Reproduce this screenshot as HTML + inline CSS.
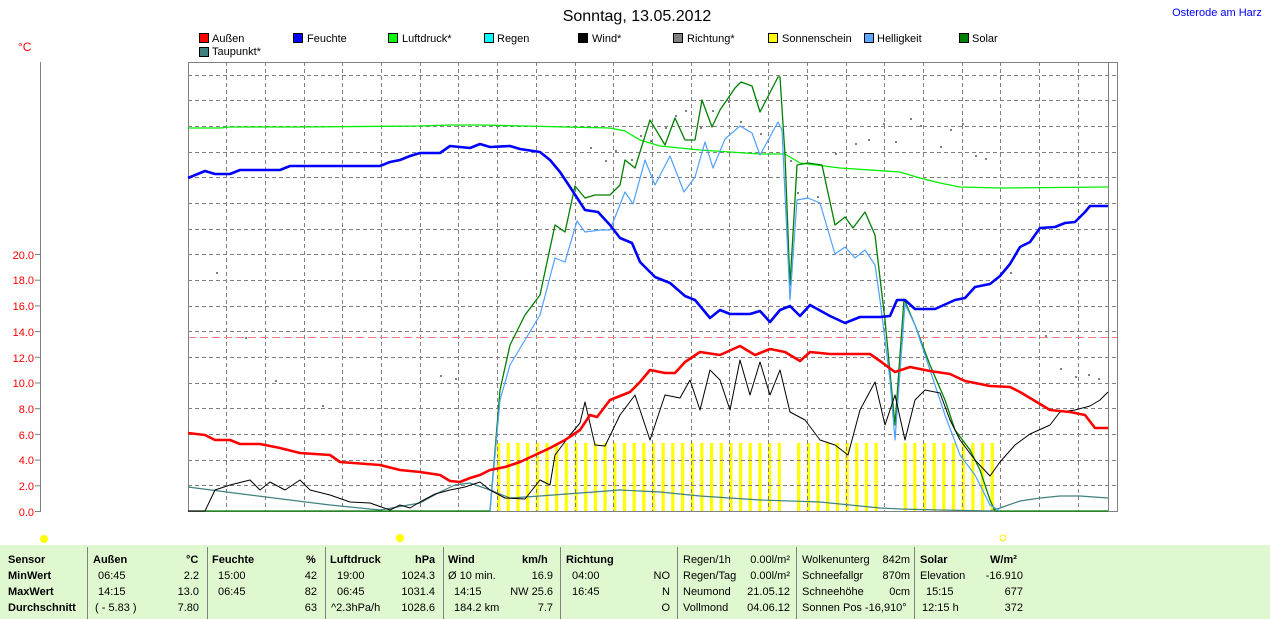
<!DOCTYPE html>
<html><head><meta charset="utf-8"><style>
body{margin:0;width:1270px;height:619px;background:#fff;overflow:hidden;font-family:"Liberation Sans",sans-serif;position:relative}
.t{position:absolute;font-size:11px;color:#000;white-space:nowrap}
.b{font-weight:bold}
.r{text-align:right}
</style></head><body>
<svg width="1270" height="545" style="position:absolute;left:0;top:0" font-family="Liberation Sans, sans-serif">
<defs><pattern id="sun" x="497" y="0" width="9.68" height="600" patternUnits="userSpaceOnUse"><rect x="0" y="0" width="3.2" height="600" fill="#ffff00"/></pattern></defs>
<text x="637" y="21" font-size="16" text-anchor="middle" fill="#000">Sonntag, 13.05.2012</text>
<text x="1217" y="16" font-size="11" text-anchor="middle" fill="#0000ff">Osterode am Harz</text>
<text x="18" y="51" font-size="12" fill="#ff0000">°C</text>
<g font-size="11" fill="#000">
<rect x="199.5" y="33.5" width="9" height="9" fill="#ff0000" stroke="#000"/><text x="212" y="42">Außen</text>
<rect x="293.5" y="33.5" width="9" height="9" fill="#0000ff" stroke="#000"/><text x="307" y="42">Feuchte</text>
<rect x="388.5" y="33.5" width="9" height="9" fill="#00ff00" stroke="#000"/><text x="402" y="42">Luftdruck*</text>
<rect x="484.5" y="33.5" width="9" height="9" fill="#00ffff" stroke="#000"/><text x="497" y="42">Regen</text>
<rect x="578.5" y="33.5" width="9" height="9" fill="#000000" stroke="#000"/><text x="592" y="42">Wind*</text>
<rect x="673.5" y="33.5" width="9" height="9" fill="#808080" stroke="#000"/><text x="687" y="42">Richtung*</text>
<rect x="768.5" y="33.5" width="9" height="9" fill="#ffff00" stroke="#000"/><text x="782" y="42">Sonnenschein</text>
<rect x="864.5" y="33.5" width="9" height="9" fill="#60a8ff" stroke="#000"/><text x="877" y="42">Helligkeit</text>
<rect x="959.5" y="33.5" width="9" height="9" fill="#008000" stroke="#000"/><text x="972" y="42">Solar</text>
<rect x="199.5" y="47.5" width="9" height="9" fill="#408080" stroke="#000"/><text x="212" y="55">Taupunkt*</text>
</g>
<!-- y axis -->
<line x1="40.5" y1="62" x2="40.5" y2="512" stroke="#808080" stroke-width="1"/>
<g stroke="#808080"><line x1="35" y1="511.5" x2="40" y2="511.5"/><line x1="35" y1="485.8" x2="40" y2="485.8"/><line x1="35" y1="460.1" x2="40" y2="460.1"/><line x1="35" y1="434.4" x2="40" y2="434.4"/><line x1="35" y1="408.7" x2="40" y2="408.7"/><line x1="35" y1="383" x2="40" y2="383"/><line x1="35" y1="357.3" x2="40" y2="357.3"/><line x1="35" y1="331.6" x2="40" y2="331.6"/><line x1="35" y1="305.9" x2="40" y2="305.9"/><line x1="35" y1="280.2" x2="40" y2="280.2"/><line x1="35" y1="254.5" x2="40" y2="254.5"/></g>
<g font-size="11" fill="#ff0000" text-anchor="end">
<text x="34" y="516">0.0</text><text x="34" y="490">2.0</text><text x="34" y="464">4.0</text><text x="34" y="439">6.0</text><text x="34" y="413">8.0</text><text x="34" y="387">10.0</text><text x="34" y="362">12.0</text><text x="34" y="336">14.0</text><text x="34" y="310">16.0</text><text x="34" y="284">18.0</text><text x="34" y="259">20.0</text>
</g>
<!-- sunshine -->
<rect x="495" y="443" width="288" height="68" fill="url(#sun)"/>
<rect x="795" y="443" width="86" height="68" fill="url(#sun)"/>
<rect x="902" y="443" width="93" height="68" fill="url(#sun)"/>
<!-- grid -->
<g stroke="#808080" stroke-dasharray="4,3" stroke-width="1">
<path d="M226.5 62V511M265.5 62V511M304.5 62V511M342.5 62V511M381.5 62V511M420.5 62V511M458.5 62V511M497.5 62V511M536.5 62V511M575.5 62V511M613.5 62V511M652.5 62V511M691.5 62V511M729.5 62V511M768.5 62V511M807.5 62V511M846.5 62V511M884.5 62V511M923.5 62V511M962.5 62V511M1000.5 62V511M1039.5 62V511M1078.5 62V511"/>
<path d="M188 485.5H1117M188 460.5H1117M188 434.5H1117M188 408.5H1117M188 383.5H1117M188 357.5H1117M188 331.5H1117M188 306.5H1117M188 280.5H1117M188 254.5H1117M188 229.5H1117M188 203.5H1117M188 177.5H1117M188 152.5H1117M188 126.5H1117M188 100.5H1117M188 75.5H1117"/>
</g>
<line x1="188" y1="337.5" x2="1117" y2="337.5" stroke="#f08080" stroke-dasharray="8,4"/>
<rect x="188.5" y="62.5" width="929" height="449" fill="none" stroke="#808080"/>
<line x1="1108.5" y1="62" x2="1108.5" y2="511" stroke="#808080"/>
<!-- dots -->
<g fill="#808080">
<rect x="216" y="272" width="2" height="2"/><rect x="245" y="337" width="2" height="2"/><rect x="275" y="380" width="2" height="2"/><rect x="322" y="405" width="2" height="2"/><rect x="440" y="375" width="2" height="2"/><rect x="455" y="378" width="2" height="2"/><rect x="575" y="196" width="2" height="2"/><rect x="590" y="147" width="2" height="2"/><rect x="605" y="160" width="2" height="2"/><rect x="615" y="150" width="2" height="2"/><rect x="631" y="159" width="2" height="2"/><rect x="640" y="135" width="2" height="2"/><rect x="650" y="140" width="2" height="2"/><rect x="665" y="127" width="2" height="2"/><rect x="675" y="115" width="2" height="2"/><rect x="685" y="110" width="2" height="2"/><rect x="700" y="127" width="2" height="2"/><rect x="712" y="110" width="2" height="2"/><rect x="728" y="101" width="2" height="2"/><rect x="740" y="121" width="2" height="2"/><rect x="760" y="133" width="2" height="2"/><rect x="790" y="160" width="2" height="2"/><rect x="797" y="192" width="2" height="2"/><rect x="817" y="196" width="2" height="2"/><rect x="835" y="153" width="2" height="2"/><rect x="855" y="143" width="2" height="2"/><rect x="868" y="139" width="2" height="2"/><rect x="883" y="123" width="2" height="2"/><rect x="895" y="141" width="2" height="2"/><rect x="910" y="118" width="2" height="2"/><rect x="920" y="125" width="2" height="2"/><rect x="940" y="146" width="2" height="2"/><rect x="950" y="129" width="2" height="2"/><rect x="962" y="123" width="2" height="2"/><rect x="975" y="155" width="2" height="2"/><rect x="985" y="158" width="2" height="2"/><rect x="1010" y="272" width="2" height="2"/><rect x="1045" y="335" width="2" height="2"/><rect x="1060" y="368" width="2" height="2"/><rect x="1075" y="376" width="2" height="2"/><rect x="1088" y="374" width="2" height="2"/><rect x="1098" y="378" width="2" height="2"/>
</g>
<g fill="none" stroke-linejoin="round">
<polyline stroke="#408080" stroke-width="1.2" points="188,487 250,495 330,505 380,510 420,503 440,492 455,485 470,483 490,490 510,498 540,496 580,493 620,490 660,492 700,496 760,500 820,502 880,508 900,509 940,510 990,511 1000,508 1020,501 1040,498 1060,496 1080,496 1108,498"/>
<polyline stroke="#00ee00" stroke-width="1.3" points="188,128 220,128 230,127 300,127 420,126 450,125 480,125 610,128 625,131 640,140 660,146 700,150 760,154 785,154 800,163 840,168 900,172 920,178 940,183 960,187 1000,188 1108,187"/>
<polyline stroke="#008000" stroke-width="1.3" points="188,511 490,511 500,390 510,345 525,315 540,295 555,225 565,232 575,186 585,198 595,195 610,195 620,185 625,160 635,168 650,120 665,145 675,118 685,140 695,140 702,100 712,127 720,110 735,88 741,82 752,86 760,112 778,77 780,77 785,155 790,285 797,165 808,163 822,165 835,225 845,217 853,228 865,212 875,235 880,278 885,320 895,425 904,299 915,325 930,365 945,400 955,430 970,450 980,470 990,500 995,511 1108,511"/>
<polyline stroke="#50a0ff" stroke-width="1.2" points="490,511 500,400 510,365 525,340 540,315 555,258 565,262 577,221 585,232 600,230 610,230 625,192 633,204 645,160 655,185 670,156 684,192 695,177 705,142 713,168 725,139 740,126 752,133 760,155 778,122 782,130 790,300 797,200 808,198 820,203 835,254 845,247 855,258 865,250 875,265 880,300 890,380 895,440 905,304 915,325 930,370 945,415 960,455 975,475 990,505 1000,511"/>
<polyline stroke="#000" stroke-width="1" points="188,511 205,511 215,490 230,485 250,480 260,490 270,482 285,490 300,480 310,490 330,495 350,502 370,503 390,510 400,505 410,508 420,502 435,494 450,490 465,487 480,482 490,490 505,498 525,499 540,480 550,485 555,455 570,435 580,423 585,402 595,445 605,446 620,415 635,395 650,440 665,395 680,398 690,380 700,410 710,370 720,380 730,410 740,360 750,395 760,362 770,395 780,370 790,412 805,420 820,440 835,445 848,455 860,410 875,382 885,425 895,395 905,440 915,400 925,390 940,393 950,420 960,440 975,460 990,476 1000,462 1015,445 1030,434 1050,425 1060,412 1075,410 1090,406 1100,400 1108,392"/>
<polyline stroke="#ff0000" stroke-width="2.6" points="188,433 205,435 215,440 230,440 240,444 260,444 280,448 300,453 330,455 340,462 380,465 400,470 420,472 440,475 450,481 460,482 470,478 480,475 490,470 505,467 520,462 535,455 550,448 565,440 580,430 590,415 597,417 610,400 630,392 640,382 650,370 665,373 675,373 685,362 700,352 720,355 740,346 755,355 770,349 785,352 800,361 810,352 830,354 845,354 870,354 880,361 895,372 910,367 930,371 950,374 965,381 990,386 1010,387 1020,392 1030,398 1050,410 1070,412 1085,415 1095,428 1108,428"/>
<polyline stroke="#0000ff" stroke-width="2.6" points="188,178 205,171 215,174 230,174 240,170 280,170 290,166 380,166 390,162 400,160 410,156 420,153 440,153 450,146 470,148 480,144 490,147 510,146 520,149 540,152 550,160 560,172 570,187 585,210 598,212 610,225 620,238 632,243 640,262 655,277 670,283 685,296 695,300 710,318 720,310 730,314 750,314 760,311 770,322 780,310 790,306 800,316 810,305 830,316 845,323 860,317 880,317 890,316 897,300 905,300 915,309 935,309 955,300 965,298 975,287 990,284 1000,276 1010,264 1020,247 1030,242 1040,228 1055,227 1065,223 1075,222 1085,212 1090,206 1108,206"/>
</g>
<!-- sun icons -->
<circle cx="44" cy="539" r="4" fill="#ffff00"/>
<circle cx="400" cy="538" r="4" fill="#ffff00"/>
<circle cx="1003" cy="538" r="3" fill="none" stroke="#ffee00"/>
</svg>
<div style="position:absolute;left:0;top:545px;width:1270px;height:74px;background:#e0f8d0"></div>
<svg width="1270" height="74" style="position:absolute;left:0;top:545px"><g stroke="#808080" stroke-width="1"><line x1="87.5" y1="2" x2="87.5" y2="74"/><line x1="207.5" y1="2" x2="207.5" y2="74"/><line x1="325.5" y1="2" x2="325.5" y2="74"/><line x1="443.5" y1="2" x2="443.5" y2="74"/><line x1="560.5" y1="2" x2="560.5" y2="74"/><line x1="677.5" y1="2" x2="677.5" y2="74"/><line x1="796.5" y1="2" x2="796.5" y2="74"/><line x1="914.5" y1="2" x2="914.5" y2="74"/></g></svg>
<div class="t b" style="left:8px;top:554px">Sensor</div>
<div class="t b" style="left:8px;top:570px">MinWert</div>
<div class="t b" style="left:8px;top:586px">MaxWert</div>
<div class="t b" style="left:8px;top:602px">Durchschnitt</div>
<div class="t b" style="left:93px;top:554px">Außen</div><div class="t b" style="left:186px;top:554px">°C</div>
<div class="t" style="left:98px;top:570px">06:45</div><div class="t r" style="left:150px;width:49px;top:570px">2.2</div>
<div class="t" style="left:98px;top:586px">14:15</div><div class="t r" style="left:150px;width:49px;top:586px">13.0</div>
<div class="t" style="left:95px;top:602px">( - 5.83 )</div><div class="t r" style="left:150px;width:49px;top:602px">7.80</div>
<div class="t b" style="left:212px;top:554px">Feuchte</div><div class="t b" style="left:306px;top:554px">%</div>
<div class="t" style="left:218px;top:570px">15:00</div><div class="t r" style="left:270px;width:47px;top:570px">42</div>
<div class="t" style="left:218px;top:586px">06:45</div><div class="t r" style="left:270px;width:47px;top:586px">82</div>
<div class="t r" style="left:270px;width:47px;top:602px">63</div>
<div class="t b" style="left:330px;top:554px">Luftdruck</div><div class="t b" style="left:415px;top:554px">hPa</div>
<div class="t" style="left:337px;top:570px">19:00</div><div class="t r" style="left:380px;width:55px;top:570px">1024.3</div>
<div class="t" style="left:337px;top:586px">06:45</div><div class="t r" style="left:380px;width:55px;top:586px">1031.4</div>
<div class="t" style="left:331px;top:602px">^2.3hPa/h</div><div class="t r" style="left:380px;width:55px;top:602px">1028.6</div>
<div class="t b" style="left:448px;top:554px">Wind</div><div class="t b" style="left:522px;top:554px">km/h</div>
<div class="t" style="left:448px;top:570px">Ø 10 min.</div><div class="t r" style="left:500px;width:53px;top:570px">16.9</div>
<div class="t" style="left:454px;top:586px">14:15</div><div class="t r" style="left:500px;width:53px;top:586px">NW 25.6</div>
<div class="t" style="left:454px;top:602px">184.2 km</div><div class="t r" style="left:500px;width:53px;top:602px">7.7</div>
<div class="t b" style="left:566px;top:554px">Richtung</div>
<div class="t" style="left:572px;top:570px">04:00</div><div class="t r" style="left:640px;width:30px;top:570px">NO</div>
<div class="t" style="left:572px;top:586px">16:45</div><div class="t r" style="left:640px;width:30px;top:586px">N</div>
<div class="t r" style="left:640px;width:30px;top:602px">O</div>
<div class="t" style="left:683px;top:554px">Regen/1h</div><div class="t r" style="left:740px;width:50px;top:554px">0.00l/m²</div>
<div class="t" style="left:683px;top:570px">Regen/Tag</div><div class="t r" style="left:740px;width:50px;top:570px">0.00l/m²</div>
<div class="t" style="left:683px;top:586px">Neumond</div><div class="t r" style="left:740px;width:50px;top:586px">21.05.12</div>
<div class="t" style="left:683px;top:602px">Vollmond</div><div class="t r" style="left:740px;width:50px;top:602px">04.06.12</div>
<div class="t" style="left:802px;top:554px">Wolkenunterg</div><div class="t r" style="left:860px;width:50px;top:554px">842m</div>
<div class="t" style="left:802px;top:570px">Schneefallgr</div><div class="t r" style="left:860px;width:50px;top:570px">870m</div>
<div class="t" style="left:802px;top:586px">Schneehöhe</div><div class="t r" style="left:860px;width:50px;top:586px">0cm</div>
<div class="t" style="left:802px;top:602px">Sonnen Pos  -16,910°</div>
<div class="t b" style="left:920px;top:554px">Solar</div><div class="t b" style="left:990px;top:554px">W/m²</div>
<div class="t" style="left:920px;top:570px">Elevation</div><div class="t r" style="left:970px;width:53px;top:570px">-16.910</div>
<div class="t" style="left:926px;top:586px">15:15</div><div class="t r" style="left:970px;width:53px;top:586px">677</div>
<div class="t" style="left:922px;top:602px">12:15 h</div><div class="t r" style="left:970px;width:53px;top:602px">372</div>
</body></html>
